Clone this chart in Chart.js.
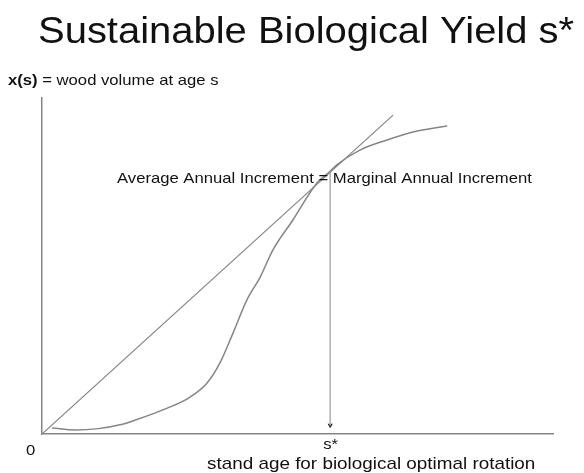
<!DOCTYPE html>
<html>
<head>
<meta charset="utf-8">
<script src="https://cdn.jsdelivr.net/npm/chart.js@4/dist/chart.umd.min.js"></script>
<style>
  html, body { margin: 0; padding: 0; background: #fff; }
  #wrap { width: 584px; height: 473px; }
</style>
</head>
<body>
<div id="wrap"><canvas id="grafico"></canvas></div>
<script>
// stand age s (0-100) and wood volume x(s) (0-100)
const curveAge =    [2,   6.5, 11,  15.5, 18,  24.5, 29,   32.3, 34.8, 37.4, 40.1, 42.7, 45.2, 49.1, 53.8, 56.4, 57.7, 62.2, 67.5, 72.6, 79.3];
const curveVolume = [1.8, 1.2, 1.6, 2.8,  4.0, 7.7,  11.0, 15.2, 21.1, 30.1, 39.9, 46.7, 54.8, 63.7, 74.7, 78.2, 80.1, 84.5, 87.5, 89.9, 91.7];

const tangentAge =    [0, 68.7];
const tangentVolume = [0, 94.9];

const sStar = 56.4;
const sStarVolume = 77.9;
const arrowVolume = 2.6;

const titulo = "Sustainable Biological Yield s*";
const rotuloY = ["x(s)", " = wood volume at age s"];
const rotuloX = "stand age for biological optimal rotation";
const rotuloTangente = "Average Annual Increment = Marginal Annual Increment";

const pontos = (xs, ys) => xs.map((v, i) => ({ x: v, y: ys[i] }));

const cinza = "#858585";
const fonte = "Arial, 'Liberation Sans', sans-serif";
const esticar = 1.11; // o texto do original é um pouco mais largo

// escreve texto esticado na horizontal, devolve a largura final
function escrever(ctx, texto, x, y, font) {
  ctx.save();
  ctx.font = font;
  ctx.translate(x, y);
  ctx.scale(esticar, 1);
  ctx.fillText(texto, 0, 0);
  const w = ctx.measureText(texto).width * esticar;
  ctx.restore();
  return w;
}

const textos = {
  id: "textos",
  afterDraw(chart) {
    const ctx = chart.ctx;
    const sx = chart.scales.x;
    ctx.save();
    ctx.fillStyle = "#111";
    ctx.textBaseline = "alphabetic";
    ctx.textAlign = "left";

    escrever(ctx, titulo, 38, 43, "36px " + fonte);

    const w = escrever(ctx, rotuloY[0], 8, 85, "bold 15px " + fonte);
    escrever(ctx, rotuloY[1], 8 + w, 85, "15px " + fonte);

    escrever(ctx, rotuloTangente, 117, 183, "15px " + fonte);

    escrever(ctx, "0", 26, 455, "15px " + fonte);
    escrever(ctx, "s*", sx.getPixelForValue(sStar) - 7, 449, "15px " + fonte);
    escrever(ctx, rotuloX, 207, 469, "17px " + fonte);
    ctx.restore();
  }
};

new Chart(document.getElementById("grafico"), {
  type: "scatter",
  data: {
    datasets: [
      { data: pontos(curveAge, curveVolume), showLine: true, borderColor: cinza, borderWidth: 1.5,
        pointRadius: 0, cubicInterpolationMode: "monotone" },
      { data: pontos(tangentAge, tangentVolume), showLine: true, borderColor: cinza, borderWidth: 1.2,
        pointRadius: 0 },
      { data: pontos([sStar, sStar], [sStarVolume, arrowVolume]), showLine: true, borderColor: "#b5b5b5",
        borderWidth: 1, pointRadius: 0 },
      { data: [{ x: sStar, y: arrowVolume }], pointStyle: "triangle", rotation: 180, pointRadius: 3,
        backgroundColor: "#222", borderColor: "#222", borderWidth: 0 }
    ]
  },
  options: {
    responsive: true,
    maintainAspectRatio: false,
    animation: false,
    layout: { padding: { left: 42, right: 31, top: 98, bottom: 39 } },
    plugins: { legend: { display: false }, tooltip: { enabled: false }, title: { display: false } },
    scales: {
      x: { type: "linear", min: 0, max: 100,
           grid: { display: false, drawTicks: false },
           border: { display: true, color: cinza, width: 1.5 },
           ticks: { display: false },
           afterFit: s => { s.height = 0; } },
      y: { type: "linear", min: 0, max: 100,
           grid: { display: false, drawTicks: false },
           border: { display: true, color: cinza, width: 1.5 },
           ticks: { display: false },
           afterFit: s => { s.width = 0; } }
    }
  },
  plugins: [textos]
});
</script>
</body>
</html>
